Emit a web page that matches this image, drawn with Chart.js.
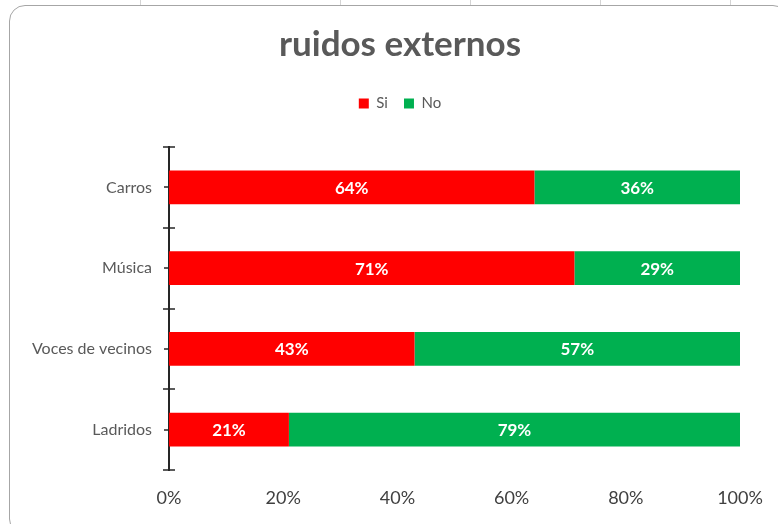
<!DOCTYPE html>
<html>
<head>
<meta charset="utf-8">
<script src="https://cdn.jsdelivr.net/npm/chart.js@4.4.1/dist/chart.umd.min.js"></script>
<style>
  html, body { margin: 0; padding: 0; background: #fff; width: 778px; height: 524px; overflow: hidden; position: relative; }
  .grid { position: absolute; top: 0; width: 1px; height: 6px; background: #d4d4d4; }
  #frame { position: absolute; left: 9px; top: 5px; width: 780px; height: 530px; border: 1.5px solid #a6a6a6; border-radius: 16px; box-sizing: border-box; }
  #wrap { position: absolute; left: 10px; top: 0; width: 780px; height: 524px; }
</style>
</head>
<body>
<div class="grid" style="left:140px"></div>
<div class="grid" style="left:340px"></div>
<div class="grid" style="left:470px"></div>
<div class="grid" style="left:600px"></div>
<div class="grid" style="left:730px"></div>
<div id="frame"></div>
<div id="wrap"><canvas id="chart" width="780" height="524"></canvas></div>
<script>
const categories = ["Carros", "Música", "Voces de vecinos", "Ladridos"];
const siValues = [64, 71, 43, 21];
const noValues = [36, 29, 57, 79];
const xTicks = [0, 20, 40, 60, 80, 100];

const FONT = "Lato, 'Open Sans', sans-serif";
const AXIS = "#262626";

// white percentage labels in the middle of each segment
const barLabels = {
  id: 'barLabels',
  afterDatasetsDraw(chart) {
    const ctx = chart.ctx;
    ctx.save();
    ctx.fillStyle = '#ffffff';
    ctx.font = "bold 17px " + FONT;
    ctx.textAlign = 'center';
    ctx.textBaseline = 'middle';
    chart.data.datasets.forEach((ds, di) => {
      chart.getDatasetMeta(di).data.forEach((bar, i) => {
        const p = bar.getCenterPoint();
        ctx.fillText(ds.data[i] + '%', p.x, p.y + 1);
      });
    });
    ctx.restore();
  }
};

// Excel style cross tick marks on the category axis
const axisTicks = {
  id: 'axisTicks',
  afterDraw(chart) {
    const y = chart.scales.y;
    const x0 = chart.chartArea.left;
    const ctx = chart.ctx;
    ctx.save();
    ctx.strokeStyle = AXIS;
    ctx.lineWidth = 1.5;
    ctx.beginPath();
    for (let i = 0; i <= categories.length; i++) {
      const py = Math.round(y.getPixelForValue(i - 0.5));
      ctx.moveTo(x0 - 6, py);
      ctx.lineTo(x0 + 6, py);
    }
    for (let i = 0; i < categories.length; i++) {
      const py = Math.round(y.getPixelForValue(i));
      ctx.moveTo(x0 - 5, py);
      ctx.lineTo(x0, py);
    }
    ctx.stroke();
    ctx.restore();
  }
};

// extra room under the legend
const legendGap = {
  id: 'legendGap',
  beforeInit(chart) {
    const fit = chart.legend.fit;
    chart.legend.fit = function () {
      fit.call(this);
      this.height += 26;
    };
  }
};

new Chart(document.getElementById('chart'), {
  type: 'bar',
  data: {
    labels: categories,
    datasets: [
      { label: 'Si', data: siValues, backgroundColor: '#ff0000', borderWidth: 0 },
      { label: 'No', data: noValues, backgroundColor: '#00b050', borderWidth: 0 }
    ]
  },
  options: {
    indexAxis: 'y',
    responsive: false,
    animation: false,
    categoryPercentage: 0.6,
    barPercentage: 0.7,
    layout: { padding: { left: 0, right: 0, top: 0, bottom: 14 } },
    plugins: {
      tooltip: { enabled: false },
      title: {
        display: true,
        text: 'ruidos externos',
        color: '#595959',
        font: { family: FONT, size: 35, weight: 'bold' },
        padding: { top: 24, bottom: 14 }
      },
      legend: {
        display: true,
        labels: {
          boxWidth: 10,
          boxHeight: 10,
          color: '#595959',
          font: { family: FONT, size: 15 },
          padding: 16
        }
      }
    },
    scales: {
      x: {
        stacked: true,
        min: 0,
        max: 100,
        afterBuildTicks: (s) => { s.ticks = xTicks.map(v => ({ value: v })); },
        afterFit: (s) => { s.height = 40; },
        grid: { display: false, drawTicks: false },
        border: { display: false },
        ticks: {
          padding: 17,
          color: '#404040',
          font: { family: FONT, size: 18 },
          callback: (v) => v + '%'
        }
      },
      y: {
        stacked: true,
        afterFit: (s) => { s.width = 159; },
        grid: { display: false, drawTicks: false },
        border: { display: true, color: AXIS, width: 2 },
        ticks: {
          padding: 17,
          color: '#595959',
          font: { family: FONT, size: 16 }
        }
      },
      // empty box on the right so the plot ends before the canvas edge
      yRight: {
        type: 'category',
        position: 'right',
        afterFit: (s) => { s.width = 50; },
        grid: { display: false, drawTicks: false },
        border: { display: false },
        ticks: { display: false }
      }
    }
  },
  plugins: [barLabels, axisTicks, legendGap]
});
</script>
</body>
</html>
